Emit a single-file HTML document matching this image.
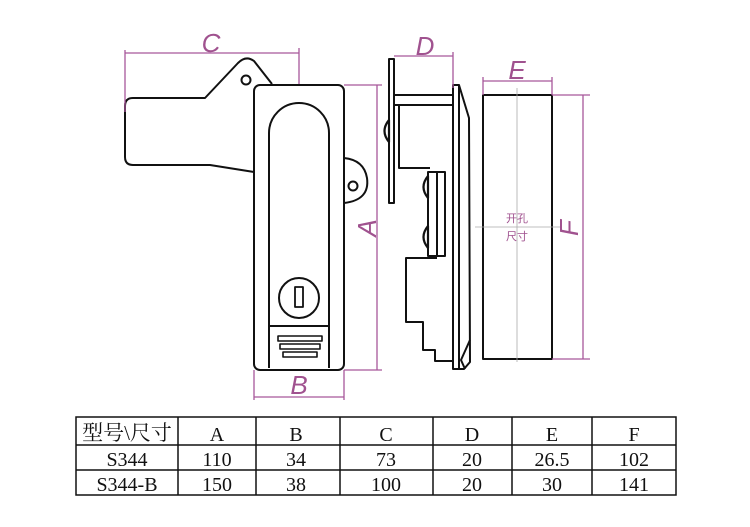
<!DOCTYPE html>
<html><head><meta charset="utf-8"><style>
html,body{margin:0;padding:0;background:#fff;width:750px;height:527px;overflow:hidden}
svg{display:block}
</style></head><body>
<svg width="750" height="527" viewBox="0 0 750 527" xmlns="http://www.w3.org/2000/svg">
<g fill="none" stroke="#111" stroke-width="2" stroke-linejoin="round">
<path d="M254,172 L210,165 L133,165 Q125,165 125,157 L125,106 Q125,98 133,98 L205,98 L238,63 Q246,55 254,61 L272,84"/>
<circle cx="246" cy="80" r="4.5"/>
<path d="M344,158 Q364,160 367,178 Q370,200 344,203"/>
<circle cx="353" cy="186" r="4.5"/>
<rect x="254" y="85" width="90" height="285" rx="6" fill="#fff"/>
<path d="M269,368 L269,133 A30,30 0 0 1 329,133 L329,368"/>
<line x1="269" y1="326" x2="329" y2="326"/>
<circle cx="299" cy="298" r="20"/>
<rect x="295" y="287" width="8" height="20" stroke-width="1.8"/>
<rect x="278" y="336" width="44" height="5" stroke-width="1.6"/>
<rect x="280" y="344" width="40" height="5" stroke-width="1.6"/>
<rect x="283" y="352" width="34" height="5" stroke-width="1.6"/>
<rect x="389" y="59" width="5" height="144"/>
<line x1="394" y1="95" x2="453" y2="95"/>
<line x1="394" y1="105" x2="453" y2="105"/>
<path d="M399,105 L399,168 L430,168"/>
<rect x="428" y="172" width="9" height="84"/>
<rect x="437" y="172" width="8" height="84"/>
<path d="M389,120 Q380,131 389,142 Z" fill="#fff" stroke-width="2.2"/>
<path d="M428,176 Q419,187 428,198 Z" fill="#fff" stroke-width="2.2"/>
<path d="M428,226 Q419,237 428,248 Z" fill="#fff" stroke-width="2.2"/>
<path d="M437,258 L406,258 L406,322 L423,322 L423,350 L435,350 L435,361 L453,361"/>
<path d="M453,85 L459,85 L469,118 L470,362 L464,369 L453,369 Z"/>
<line x1="459" y1="85" x2="459" y2="369"/>
<path d="M470,340 L461,360 L465,369"/>
<rect x="483" y="95" width="69" height="264"/>
</g>
<g stroke="#aaa" stroke-width="0.8">
<line x1="517" y1="88" x2="517" y2="362"/>
<line x1="475" y1="227" x2="560" y2="227"/>
</g>
<g stroke="#a8579a" stroke-width="1.3" fill="none">
<line x1="125" y1="53" x2="299" y2="53"/>
<line x1="125" y1="50" x2="125" y2="112"/>
<line x1="299" y1="48" x2="299" y2="84"/>
<line x1="377" y1="85" x2="377" y2="370"/>
<line x1="344" y1="85" x2="382" y2="85"/>
<line x1="344" y1="370" x2="382" y2="370"/>
<line x1="254" y1="397" x2="344" y2="397"/>
<line x1="254" y1="370" x2="254" y2="400"/>
<line x1="344" y1="370" x2="344" y2="400"/>
<line x1="394" y1="56" x2="453" y2="56"/>
<line x1="453" y1="52" x2="453" y2="88"/>
<line x1="483" y1="81" x2="552" y2="81"/>
<line x1="483" y1="77" x2="483" y2="95"/>
<line x1="552" y1="77" x2="552" y2="95"/>
<line x1="583" y1="95" x2="583" y2="359"/>
<line x1="552" y1="95" x2="590" y2="95"/>
<line x1="552" y1="359" x2="590" y2="359"/>
</g>
<g fill="#a0528f" font-family="Liberation Sans, sans-serif" font-style="italic" font-size="26" text-anchor="middle">
<text x="211" y="52">C</text>
<text x="299" y="394">B</text>
<text x="425" y="55">D</text>
<text x="517" y="79">E</text>
<text transform="translate(376,228) rotate(-90)">A</text>
<text transform="translate(578,228) rotate(-90)">F</text>
</g>
<g fill="#a0528f" font-family="Liberation Sans, 'Noto Sans CJK SC', sans-serif" font-size="11" text-anchor="middle">
<text x="517" y="222">开孔</text>
<text x="517" y="240">尺寸</text>
</g>
<g stroke="#111" stroke-width="1.5" fill="none">
<rect x="76" y="417" width="600" height="78"/>
<line x1="76" y1="445" x2="676" y2="445"/>
<line x1="76" y1="470" x2="676" y2="470"/>
<line x1="178" y1="417" x2="178" y2="495"/>
<line x1="256" y1="417" x2="256" y2="495"/>
<line x1="340" y1="417" x2="340" y2="495"/>
<line x1="433" y1="417" x2="433" y2="495"/>
<line x1="512" y1="417" x2="512" y2="495"/>
<line x1="592" y1="417" x2="592" y2="495"/>
</g>
<g fill="#111" font-family="Liberation Serif, 'Noto Serif CJK SC', serif" font-size="20" text-anchor="middle">
<text x="127" y="440" font-size="21">型号\尺寸</text>
<text x="217" y="441">A</text><text x="296" y="441">B</text><text x="386" y="441">C</text><text x="472" y="441">D</text><text x="552" y="441">E</text><text x="634" y="441">F</text>
<text x="127" y="466">S344</text><text x="217" y="466">110</text><text x="296" y="466">34</text><text x="386" y="466">73</text><text x="472" y="466">20</text><text x="552" y="466">26.5</text><text x="634" y="466">102</text>
<text x="127" y="491">S344-B</text><text x="217" y="491">150</text><text x="296" y="491">38</text><text x="386" y="491">100</text><text x="472" y="491">20</text><text x="552" y="491">30</text><text x="634" y="491">141</text>
</g>
</svg>
</body></html>
